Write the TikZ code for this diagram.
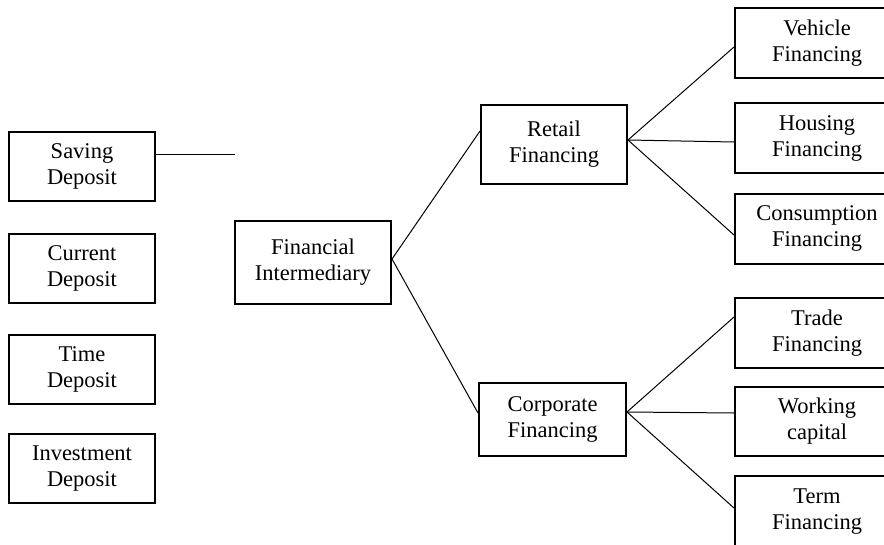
\documentclass[tikz,border=0pt]{standalone}
\usepackage{fontspec}
\setmainfont{Liberation Serif}
\usetikzlibrary{calc}
\begin{document}
\begin{tikzpicture}[x=1pt,y=-1pt,
  box/.style={draw=black,line width=2pt,fill=white,align=center,
    inner sep=0pt,font=\fontsize{22.5}{26}\selectfont},
  link/.style={draw=black,line width=1pt}]
\useasboundingbox[fill=white] (0,0) rectangle (884,544);

% deposit column
\node[box,minimum width=146,minimum height=69] (sav) at (82,166.5) {Saving\\Deposit};
\node[box,minimum width=146,minimum height=69] (cur) at (82,268.5) {Current\\Deposit};
\node[box,minimum width=146,minimum height=69] (tim) at (82,369.5) {Time\\Deposit};
\node[box,minimum width=146,minimum height=69] (inv) at (82,468.5) {Investment\\Deposit};

% centre and financing branches
\node[box,minimum width=156,minimum height=83] (fin) at (313,262.5) {Financial\\Intermediary};
\node[box,minimum width=146,minimum height=79] (ret) at (554,144.5) {Retail\\Financing};
\node[box,minimum width=147,minimum height=73] (cor) at (552.5,419.5) {Corporate\\Financing};

% financing products (their right side runs past the page edge)
\node[box,minimum width=170,minimum height=70] (veh) at (820,43) {\hspace*{-6pt}Vehicle\\\hspace*{-6pt}Financing};
\node[box,minimum width=170,minimum height=70] (hou) at (820,138) {\hspace*{-6pt}Housing\\\hspace*{-6pt}Financing};
\node[box,minimum width=170,minimum height=70] (con) at (820,228.5) {\hspace*{-6pt}Consumption\\\hspace*{-6pt}Financing};
\node[box,minimum width=170,minimum height=70] (tra) at (820,333) {\hspace*{-6pt}Trade\\\hspace*{-6pt}Financing};
\node[box,minimum width=170,minimum height=69] (wor) at (820,421) {\hspace*{-6pt}Working\\\hspace*{-6pt}capital};
\node[box,minimum width=170,minimum height=72] (ter) at (820,512) {\hspace*{-6pt}Term\\\hspace*{-6pt}Financing};

% connectors
\coordinate (savend) at (235,154);
\draw[link] ($(sav.east)+(0,-12.5)$) -- (savend);

\draw[link] ($(fin.east)+(0,-3.5)$) -- ($(ret.west)+(0,-13.5)$);
\draw[link] ($(fin.east)+(0,-3.5)$) -- ($(cor.west)+(0,-6.5)$);

\draw[link] ($(ret.east)+(0,-4.5)$) -- ($(veh.west)+(0,4)$);
\draw[link] ($(ret.east)+(0,-4.5)$) -- ($(hou.west)+(0,4)$);
\draw[link] ($(ret.east)+(0,-4.5)$) -- ($(con.west)+(0,6.5)$);

\draw[link] ($(cor.east)+(0,-7.5)$) -- ($(tra.west)+(0,-16)$);
\draw[link] ($(cor.east)+(0,-7.5)$) -- ($(wor.west)+(0,-8)$);
\draw[link] ($(cor.east)+(0,-7.5)$) -- ($(ter.west)+(0,-4)$);
\end{tikzpicture}
\end{document}
